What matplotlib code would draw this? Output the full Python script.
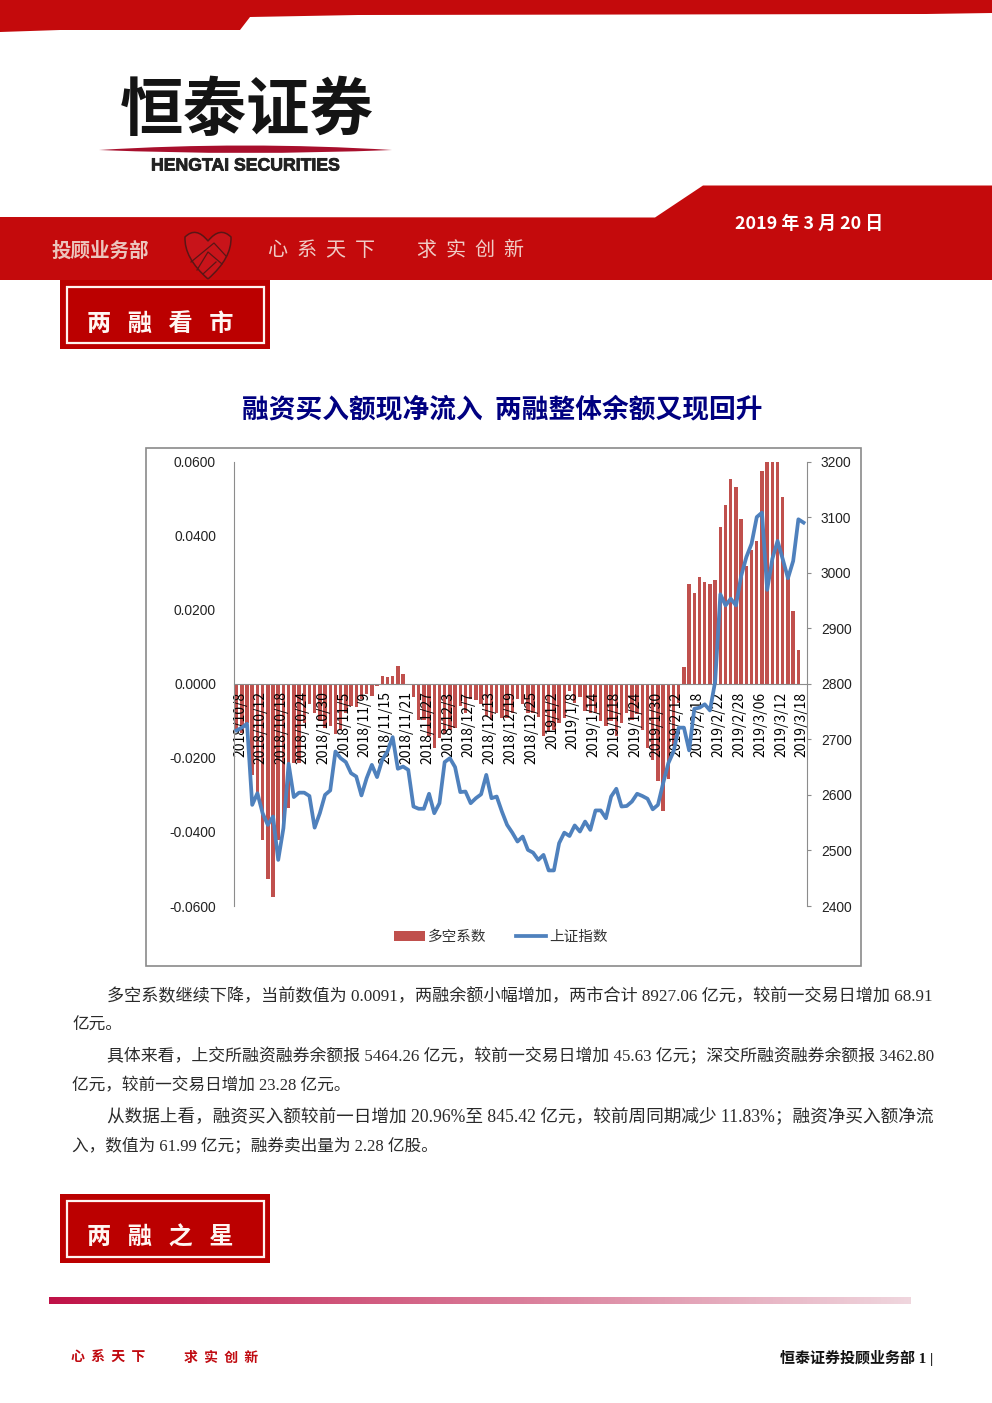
#!/usr/bin/env python3

import numpy as np
import matplotlib
matplotlib.use("Agg")
import matplotlib.pyplot as plt
import matplotlib.patheffects as pe
from matplotlib.patches import Polygon, Rectangle, PathPatch
from matplotlib.path import Path

W, H = 992, 1403
DPI = 100

RED = "#c40a0c"
BOX_RED = "#bb0000"
BAR_RED = "#c0504d"
LINE_BLUE = "#4f81bd"
GRAY = "#8c8c8c"

CJK = ["Noto Sans CJK SC", "DejaVu Sans"]
SERIF = ["Liberation Serif", "Noto Sans CJK SC"]
SANS = ["Liberation Sans", "Noto Sans CJK SC"]

plt.rcParams["font.family"] = CJK

# long/short coefficient, one value per trading day (last day has no bar)
ratio = [
    -0.0124, -0.0133, -0.0106, -0.0245, -0.0295, -0.0421, -0.0527, -0.0577, -0.0421, -0.0385,
    -0.0336, -0.0214, -0.0214, -0.0106, -0.0056, -0.0079, -0.0101, -0.0119, -0.0115, -0.0135,
    -0.0124, -0.0079, -0.0060, -0.0062, -0.0042, -0.0029, -0.0033, -0.0006, 0.0022, 0.0017,
    0.0020, 0.0047, 0.0027, -0.0003, -0.0036, -0.0097, -0.0097, -0.0142, -0.0173, -0.0146,
    -0.0137, -0.0124, -0.0119, -0.0060, -0.0079, -0.0042, -0.0044, -0.0056, -0.0088, -0.0099,
    -0.0079, -0.0092, -0.0092, -0.0079, -0.0042, -0.0056, -0.0079, -0.0079, -0.0089, -0.0142,
    -0.0128, -0.0124, -0.0106, -0.0092, -0.0020, -0.0051, -0.0035, -0.0074, -0.0079, -0.0079,
    -0.0101, -0.0113, -0.0101, -0.0142, -0.0106, -0.0079, -0.0097, -0.0083, -0.0124, -0.0173,
    -0.0207, -0.0263, -0.0343, -0.0256, -0.0169, -0.0051, 0.0044, 0.0270, 0.0245, 0.0288,
    0.0274, 0.0270, 0.0280, 0.0423, 0.0483, 0.0552, 0.0531, 0.0446, 0.0318, 0.0361,
    0.0385, 0.0575, 0.0640, 0.0650, 0.0620, 0.0503, 0.0286, 0.0196, 0.0091, 0.0,
]

# Shanghai composite
index_close = [
    2716, 2721, 2728, 2582, 2603, 2567, 2546, 2561, 2483, 2540,
    2656, 2596, 2604, 2604, 2598, 2541, 2567, 2600, 2608, 2678,
    2666, 2659, 2639, 2633, 2599, 2630, 2654, 2632, 2663, 2678,
    2704, 2647, 2651, 2645, 2579, 2575, 2575, 2602, 2567, 2585,
    2659, 2666, 2650, 2605, 2606, 2585, 2594, 2601, 2636, 2594,
    2597, 2570, 2546, 2532, 2516, 2525, 2501, 2496, 2483, 2492,
    2464, 2464, 2513, 2532, 2526, 2545, 2534, 2552, 2537, 2572,
    2572, 2558, 2597, 2611, 2579, 2580, 2588, 2602, 2598, 2593,
    2574, 2582, 2621, 2657, 2678, 2721, 2721, 2680, 2755, 2757,
    2763, 2752, 2804, 2961, 2941, 2953, 2941, 2994, 3028, 3052,
    3100, 3108, 2969, 3025, 3057, 3024, 2990, 3021, 3096, 3090,
]

date_labels = [
    "2018/10/8", "2018/10/12", "2018/10/18", "2018/10/24", "2018/10/30", "2018/11/5", "2018/11/9",
    "2018/11/15", "2018/11/21", "2018/11/27", "2018/12/3", "2018/12/7", "2018/12/13", "2018/12/19",
    "2018/12/25", "2019/1/2", "2019/1/8", "2019/1/14", "2019/1/18", "2019/1/24", "2019/1/30",
    "2019/2/12", "2019/2/18", "2019/2/22", "2019/2/28", "2019/3/06", "2019/3/12", "2019/3/18",
]
ratio_ticks = [-0.06, -0.04, -0.02, 0.0, 0.02, 0.04, 0.06]
ratio_tick_labels = ["-0.0600", "-0.0400", "-0.0200", "0.0000", "0.0200", "0.0400", "0.0600"]
index_ticks = [2400, 2500, 2600, 2700, 2800, 2900, 3000, 3100, 3200]

body_lines = [
    "多空系数继续下降，当前数值为 0.0091，两融余额小幅增加，两市合计 8927.06 亿元，较前一交易日增加 68.91",
    "亿元。",
    "具体来看，上交所融资融券余额报 5464.26 亿元，较前一交易日增加 45.63 亿元；深交所融资融券余额报 3462.80",
    "亿元，较前一交易日增加 23.28 亿元。",
    "从数据上看，融资买入额较前一日增加 20.96%至 845.42 亿元，较前周同期减少 11.83%；融资净买入额净流",
    "入，数值为 61.99 亿元；融券卖出量为 2.28 亿股。",
]
body_x0 = [107, 72, 107, 72, 107, 72]
body_x1 = [933, None, 933, None, 933, None]
body_y = [996.5, 1026, 1056.5, 1086, 1116, 1145.5]


def px_axes(fig, x0, y0, x1, y1, **kw):
    return fig.add_axes([x0 / W, 1 - y1 / H, (x1 - x0) / W, (y1 - y0) / H], **kw)


def fit_text(fig, t, width):
    # scale the font so the text spans width pixels
    r = fig.canvas.get_renderer()
    t.set_fontsize(t.get_fontsize() * width / t.get_window_extent(r).width)


def red_box(fig, page, y0, label):
    page.add_patch(Rectangle((60, y0), 210, 69, color=BOX_RED, lw=0))
    page.add_patch(Rectangle((66.5, y0 + 6.5), 197.5, 56.5, fill=False, ec="#fff4f0", lw=1.6))
    t = page.text(87, y0 + 44, label, color="#fff6f2", fontsize=18, fontweight="bold", va="center")
    fit_text(fig, t, 146)


def draw_page(fig):
    page = fig.add_axes([0, 0, 1, 1], zorder=0)
    page.set_xlim(0, W)
    page.set_ylim(H, 0)
    page.axis("off")

    # header bands
    page.add_patch(Polygon([(0, 0), (992, 0), (992, 13), (926, 14), (358, 15), (250, 17),
                            (240, 30), (60, 30), (0, 32)], color=RED, lw=0))
    page.add_patch(Polygon([(0, 217), (655, 217.5), (703, 185.5), (992, 185.5), (992, 280), (0, 280)],
                           color=RED, lw=0))

    # logo
    t = page.text(120, 111, "恒泰证券", fontsize=45, fontweight="bold", color="#141414", va="center")
    fit_text(fig, t, 254)
    page.add_patch(PathPatch(Path([(99, 150), (245, 141), (392, 150), (245, 156), (99, 150)],
                                  [Path.MOVETO, Path.CURVE3, Path.CURVE3, Path.CURVE3, Path.CURVE3]),
                             color="#a80f2c", lw=0))
    t = page.text(151, 166, "HENGTAI SECURITIES", family=SANS, fontsize=12, fontweight="bold",
                  color="#222222", va="center")
    fit_text(fig, t, 188)
    t.set_path_effects([pe.withStroke(linewidth=0.6, foreground="#222222")])

    t = page.text(735, 223.5, "2019 年 3 月 20 日", color="white", fontsize=13.5, fontweight="bold", va="center")
    fit_text(fig, t, 148)
    t = page.text(52, 251, "投顾业务部", color="#ecc4bc", fontsize=15, fontweight="bold", va="center")
    fit_text(fig, t, 98)
    t = page.text(268, 250, "心  系  天  下", color="#f0ccc6", fontsize=15, va="center")
    fit_text(fig, t, 107)
    t = page.text(417, 250, "求  实  创  新", color="#f0ccc6", fontsize=15, va="center")
    fit_text(fig, t, 107)

    # heart and handshake
    heart = Path([(208, 279), (184, 258), (185, 237), (196, 226), (208, 241),
                  (220, 226), (231, 237), (232, 258), (208, 279)],
                 [Path.MOVETO, Path.CURVE3, Path.CURVE3, Path.CURVE3, Path.CURVE3,
                  Path.CURVE3, Path.CURVE3, Path.CURVE3, Path.CURVE3])
    page.add_patch(PathPatch(heart, fc="#c8141a", ec="#5a1616", lw=1.1))
    page.plot([191, 214, 226], [262, 243, 256], color="#5a1616", lw=0.9)
    page.plot([197, 208, 222], [270, 252, 264], color="#5a1616", lw=0.9)
    page.plot([203, 216], [274, 262], color="#5a1616", lw=0.9)

    red_box(fig, page, 280, "两   融   看   市")
    red_box(fig, page, 1194, "两   融   之   星")

    t = page.text(242, 409.5, "融资买入额现净流入  两融整体余额又现回升", color="#000080",
                  fontsize=18, fontweight="bold", va="center")
    fit_text(fig, t, 520)

    # chart frame
    page.add_patch(Rectangle((146, 447.5), 715, 518, fill=False, ec="#8a8a8a", lw=1.2))

    for line, x0, x1, y in zip(body_lines, body_x0, body_x1, body_y):
        t = page.text(x0, y, line, family=SERIF, fontsize=12, color="#2a2a2a", va="center")
        if x1 is not None:
            fit_text(fig, t, x1 - x0)

    # gradient rule
    grad = np.linspace(0, 1, 256).reshape(1, -1, 1)
    left = np.array([0.75, 0.07, 0.28]).reshape(1, 1, 3)
    right = np.array([0.94, 0.84, 0.87]).reshape(1, 1, 3)
    page.imshow(left + (right - left) * grad, extent=(49, 911, 1304, 1297), aspect="auto", zorder=1)
    page.set_xlim(0, W)
    page.set_ylim(H, 0)

    page.text(71, 1358, "心  系  天  下", color="#c00a10", fontsize=10, fontweight="bold", va="center")
    page.text(184, 1358, "求  实  创  新", color="#c00a10", fontsize=10, fontweight="bold", va="center")
    t = page.text(780, 1358, "恒泰证券投顾业务部 1 |", family=SERIF, fontsize=11, fontweight="bold",
                  color="#111111", va="center")
    fit_text(fig, t, 154)


def draw_chart(fig):
    x = np.arange(len(ratio))

    ax = px_axes(fig, 234, 461.5, 806.7, 906, zorder=2)
    ax.patch.set_alpha(0)
    bars = ax.bar(x, ratio, width=0.66, color=BAR_RED, lw=0)
    ax.set_xlim(-0.5, 109.6)
    ax.set_ylim(-0.06, 0.06)

    ax.set_yticks(ratio_ticks)
    ax.set_yticklabels(ratio_tick_labels, family=SANS, fontsize=9.9, color="#222222")
    ax.tick_params(axis="y", length=0, pad=13)

    # no tick marks here, the shift only lines the rotated labels up with the reference
    ax.set_xticks(x[::4] + 0.65)
    ax.set_xticklabels(date_labels, family=SANS, fontsize=10.4, color="#222222")
    ax.tick_params(axis="x", length=0, pad=5.5, labelrotation=90)
    for lab in ax.get_xticklabels():
        lab.set_path_effects([pe.withStroke(linewidth=1.2, foreground="white")])

    ax.spines["top"].set_visible(False)
    ax.spines["right"].set_visible(False)
    ax.spines["left"].set_color(GRAY)
    ax.spines["bottom"].set_color(GRAY)
    ax.spines["bottom"].set_position(("data", 0))

    ax2 = ax.twinx()
    line, = ax2.plot(x, index_close, color=LINE_BLUE, lw=2.7, solid_joinstyle="round")
    ax2.set_ylim(2400, 3200)
    ax2.set_yticks(index_ticks)
    ax2.set_yticklabels([str(v) for v in index_ticks], family=SANS, fontsize=9.9, color="#222222")
    ax2.tick_params(axis="y", length=3.2, width=0.8, color=GRAY, pad=7)
    for side in ["top", "left", "bottom"]:
        ax2.spines[side].set_visible(False)
    ax2.spines["right"].set_color(GRAY)

    fig.legend([bars, line], ["多空系数", "上证指数"], loc="center", ncol=2, frameon=False,
               bbox_to_anchor=(501 / W, 1 - 937 / H), fontsize=10.5, labelcolor="#333333",
               handlelength=2.1, handletextpad=0.2, columnspacing=2.0, borderpad=0)


def main():
    fig = plt.figure(figsize=(W / DPI, H / DPI), dpi=DPI, facecolor="white")
    draw_page(fig)
    draw_chart(fig)
    fig.savefig("out.png", dpi=DPI)


if __name__ == "__main__":
    main()
